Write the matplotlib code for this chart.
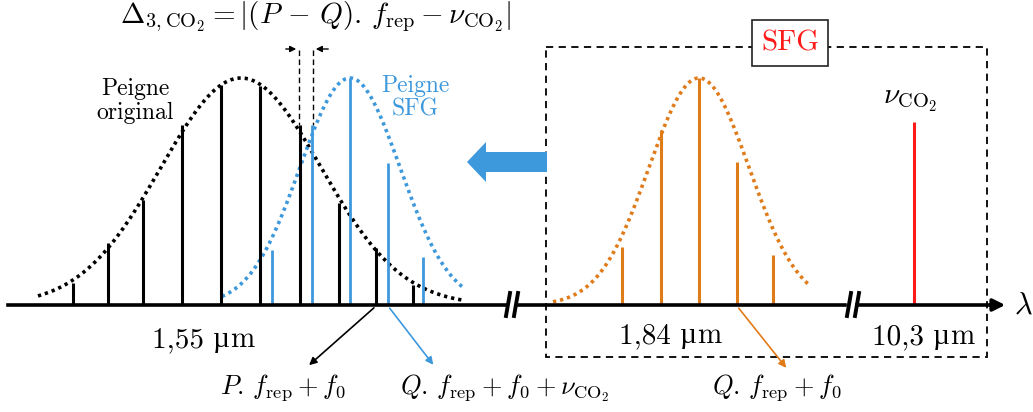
import numpy as np
import matplotlib.pyplot as plt
from matplotlib.patches import FancyArrow, Rectangle

plt.rcParams['font.family'] = ['cmr10', 'DejaVu Serif']
plt.rcParams['mathtext.fontset'] = 'cm'
plt.rcParams['axes.unicode_minus'] = False

# Peigne original (noir): positions et hauteurs des dents (pixels)
x_orig = [73, 108, 143, 182, 221, 260, 300, 339, 376, 413]
top_orig = [283, 243, 200, 125, 85, 86, 125, 203, 248, 285]
# Peigne SFG (bleu)
x_sfg = [272, 312, 350, 388, 423]
top_sfg = [250, 125, 78, 163, 257]
# Peigne à 1,84 µm (orange)
x_184 = [622, 661, 699, 737, 773]
top_184 = [247, 130, 78, 162, 255]
# raie CO2
x_co2 = 914
top_co2 = 122

# enveloppes : centre, largeur, sommet, bornes
env_orig = (241, 80, 78, 38, 462)
env_sfg = (350, 50, 78, 222, 462)
env_184 = (699, 50, 78, 553, 808)

# longueurs d'onde
wl_labels = ['1,55', '1,84', '10,3']
wl_pos = [(203, 338), (670, 334), (923, 335)]

axis_y = 305
black = '#000000'
blue = '#3d98dc'
orange = '#e07b1a'
red = '#ff1a1a'

fig = plt.figure(figsize=(10.33, 4.12), dpi=100)
ax = fig.add_axes([0, 0, 1, 1])
ax.set_xlim(0, 1033)
ax.set_ylim(412, 0)
ax.axis('off')


def envelope(ax, env, color):
    c, s, top, x0, x1 = env
    x = np.linspace(x0, x1, 300)
    y = axis_y - (axis_y - top) * np.exp(-(x - c) ** 2 / (2 * s ** 2))
    ax.plot(x, y, color=color, lw=2.6, linestyle=(0, (0.9, 1.1)), zorder=2)


def comb(ax, xs, tops, color, lw):
    ax.vlines(xs, tops, axis_y, colors=color, lw=lw, zorder=3)


envelope(ax, env_orig, black)
envelope(ax, env_sfg, blue)
envelope(ax, env_184, orange)
comb(ax, x_orig, top_orig, black, 2.2)
comb(ax, x_sfg, top_sfg, blue, 2.0)
comb(ax, x_184, top_184, orange, 2.2)
ax.vlines([x_co2], [top_co2], axis_y, colors=red, lw=2.2, zorder=3)

# axe lambda
ax.plot([8, 505], [axis_y, axis_y], color=black, lw=2.6, zorder=4)
ax.plot([518, 845], [axis_y, axis_y], color=black, lw=2.6, zorder=4)
ax.plot([857, 996], [axis_y, axis_y], color=black, lw=2.6, zorder=4)
ax.annotate('', xy=(1008, axis_y), xytext=(990, axis_y),
            arrowprops=dict(arrowstyle='-|>', color=black, lw=2.6,
                            mutation_scale=18), zorder=4)
for xb in (505, 846):
    for d in (0, 8):
        ax.plot([xb + d + 1, xb + d + 5], [316, 293], color=black, lw=2.8, zorder=5)
ax.text(1023, 306, r'$\lambda$', fontsize=22, ha='center', va='center')

# boîte SFG
ax.add_patch(Rectangle((546, 47), 441, 310, fill=False, ls=(0, (4, 3)),
                       lw=1.3, ec=black, zorder=1))
ax.text(790, 43, 'SFG', color=red, fontsize=21, ha='center', va='center',
        bbox=dict(boxstyle='square,pad=0.32', fc='white', ec='#222222', lw=1.2),
        zorder=6)

# grosse flèche bleue
ax.add_patch(FancyArrow(547, 162, -80, 0, width=20, head_width=40,
                        head_length=19, length_includes_head=True,
                        color=blue, lw=0, zorder=3))

# écart Delta
ax.vlines([299, 313], 50, 125, colors=black, lw=1.0, linestyles=(0, (4, 2.5)), zorder=2)
ax.annotate('', xy=(299, 49), xytext=(283, 49),
            arrowprops=dict(arrowstyle='-|>', color=black, lw=1.0, mutation_scale=9))
ax.annotate('', xy=(313, 49), xytext=(331, 49),
            arrowprops=dict(arrowstyle='-|>', color=black, lw=1.0, mutation_scale=9))
ax.text(316, 17, r'$\Delta_{3,\mathrm{CO_2}} = |(P\,-\,Q).\,f_{\mathrm{rep}} - \nu_{\mathrm{CO_2}}|$',
        fontsize=21, ha='center', va='center')

ax.text(135, 101, 'Peigne\noriginal', fontsize=17, ha='center', va='center',
        linespacing=1.15)
ax.text(415, 98, 'Peigne\nSFG', fontsize=17, ha='center', va='center',
        color=blue, linespacing=1.1)
ax.text(910, 101, r'$\nu_{\mathrm{CO_2}}$', fontsize=21, ha='center', va='center')

# étiquettes "x µm" : le µ de cmr10 n'existe pas, on le prend dans Liberation Serif
fig.canvas.draw()
renderer = fig.canvas.get_renderer()
inv = ax.transData.inverted()
for lab, (xc, yc) in zip(wl_labels, wl_pos):
    parts = [(lab + ' ', ['cmr10']), ('µ', ['Liberation Serif']), ('m', ['cmr10'])]
    objs = []
    for s, fam in parts:
        t = ax.text(0, yc, s, fontsize=21, family=fam, ha='left', va='baseline')
        objs.append(t)
    widths = []
    for t in objs:
        bb = t.get_window_extent(renderer)
        widths.append(bb.width)
    total = sum(widths)
    xs_px = ax.transData.transform((xc, yc))[0] - total / 2
    for t, w in zip(objs, widths):
        xd = inv.transform((xs_px, 0))[0]
        t.set_x(xd)
        t.set_y(yc + 9)
        xs_px += w

# flèches vers les formules
ax.annotate('', xy=(307, 367), xytext=(376, 306),
            arrowprops=dict(arrowstyle='-|>', color=black, lw=1.2, mutation_scale=11))
ax.annotate('', xy=(435, 367), xytext=(388, 306),
            arrowprops=dict(arrowstyle='-|>', color=blue, lw=1.2, mutation_scale=11))
ax.annotate('', xy=(788, 370), xytext=(737, 306),
            arrowprops=dict(arrowstyle='-|>', color=orange, lw=1.2, mutation_scale=11))

ax.text(283, 388, r'$P.\,f_{\mathrm{rep}} + f_0$', fontsize=19, ha='center', va='center')
ax.text(505, 388, r'$Q.\,f_{\mathrm{rep}} + f_0 + \nu_{\mathrm{CO_2}}$', fontsize=19,
        ha='center', va='center')
ax.text(777, 388, r'$Q.\,f_{\mathrm{rep}} + f_0$', fontsize=19, ha='center', va='center')

fig.savefig('out.png', dpi=100)
